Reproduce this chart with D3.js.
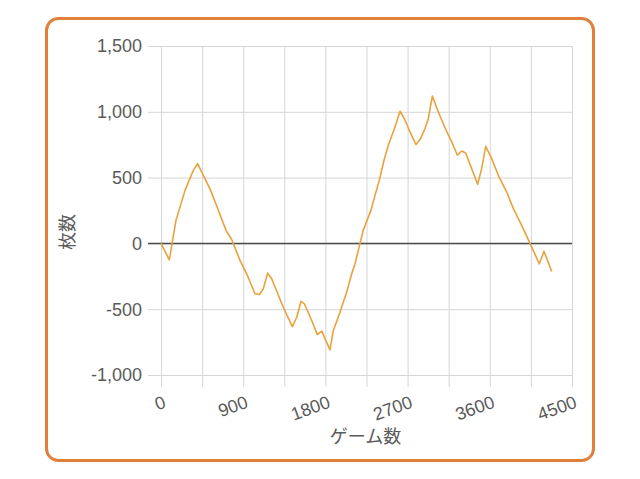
<!DOCTYPE html>
<html>
<head>
<meta charset="utf-8">
<script src="https://cdn.jsdelivr.net/npm/d3@7"></script>
<style>
  body { margin: 0; background: #fff; }
  text { font-family: "Liberation Sans", Arial, "Noto Sans CJK JP", sans-serif; fill: #5a5a5a; }
  .grid line { stroke: #d6d6d6; stroke-width: 1; }
  .domain { display: none; }
</style>
</head>
<body>
<svg width="640" height="479"></svg>
<script>
// ゲーム数 vs 枚数
let games = [0, 91, 164, 263, 354, 401, 544, 635, 712, 774, 865, 938, 1029, 1077, 1120, 1168, 1212,
  1339, 1438, 1486, 1533, 1570, 1650, 1712, 1760, 1850, 1887, 1960, 2033, 2088, 2124, 2179, 2215,
  2299, 2343, 2390, 2442, 2489, 2562, 2617, 2664, 2726, 2792, 2836, 2891, 2927, 2971, 3036, 3121,
  3183, 3245, 3292, 3336, 3401, 3467, 3511, 3555, 3621, 3701, 3785, 3858, 3949, 4040, 4142, 4193, 4278]
let coins = [0, -125, 175, 403, 555, 606, 403, 238, 99, 30, -129, -231, -383, -388, -345, -226, -269,
  -485, -632, -561, -441, -459, -586, -693, -667, -809, -662, -523, -370, -231, -155, 0, 101,
  251, 365, 479, 632, 746, 885, 1004, 949, 847, 751, 789, 873, 949, 1119, 999, 860,
  771, 670, 702, 687, 568, 449, 568, 738, 644, 505, 390, 264, 137, 0, -155, -59, -213]
let xTicks = [0, 900, 1800, 2700, 3600, 4500]
let xGrid = d3.range(0, 4501, 450)
let yTicks = [-1000, -500, 0, 500, 1000, 1500]
let yTickLabels = ["-1,000", "-500", "0", "500", "1,000", "1,500"]

let svg = d3.select("svg")
let margin = {top: 46, right: 68, bottom: 104, left: 161}
let width = svg.attr("width") - margin.left - margin.right
let height = svg.attr("height") - margin.top - margin.bottom

// frame
svg.append("rect")
    .attr("x", 46.5).attr("y", 18.5)
    .attr("width", 547).attr("height", 442)
    .attr("rx", 12)
    .attr("fill", "#fff")
    .attr("stroke", "#e0803a")
    .attr("stroke-width", 3)

let x = d3.scaleLinear().domain([0, 4500]).range([0, width])
let y = d3.scaleLinear().domain([-1000, 1500]).range([height, 0])

let g = svg.append("g")
    .attr("transform", "translate(" + margin.left + "," + margin.top + ")")

// vertical grid + x ticks
g.append("g")
    .attr("class", "grid")
    .attr("transform", "translate(0," + height + ")")
    .call(d3.axisBottom(x).tickValues(xGrid).tickSize(-height - 12).tickFormat(""))
    .selectAll("line").attr("transform", "translate(0,12)")

// horizontal grid + y ticks
g.append("g")
    .attr("class", "grid")
    .call(d3.axisLeft(y).tickValues(yTicks).tickSize(-width - 13).tickFormat(""))
    .selectAll("line").attr("transform", "translate(-13,0)")

// zero line
g.append("line")
    .attr("x1", -13).attr("x2", width)
    .attr("y1", y(0)).attr("y2", y(0))
    .attr("stroke", "#4a4a4a")
    .attr("stroke-width", 1.5)

// y labels
g.selectAll(".ylab")
  .data(yTicks)
  .enter().append("text")
    .attr("class", "ylab")
    .attr("x", -19)
    .attr("y", d => y(d))
    .attr("dy", "0.36em")
    .attr("text-anchor", "end")
    .style("font-size", "18px")
    .text((d, i) => yTickLabels[i])

// x labels, tilted
g.selectAll(".xlab")
  .data(xTicks)
  .enter().append("text")
    .attr("class", "xlab")
    .attr("transform", d => "translate(" + (x(d) + 6) + "," + (height + 32) + ") rotate(-20)")
    .attr("text-anchor", "end")
    .style("font-size", "18px")
    .text(d => d)

// axis titles
svg.append("text")
    .attr("x", margin.left + width / 2 - 1)
    .attr("y", 443)
    .attr("text-anchor", "middle")
    .style("font-size", "18px")
    .text("ゲーム数")

svg.append("text")
    .attr("transform", "translate(74,232) rotate(-90)")
    .attr("text-anchor", "middle")
    .style("font-size", "18px")
    .text("枚数")

let line = d3.line()
    .x((d, i) => x(games[i]))
    .y(d => y(d))

g.append("path")
    .datum(coins)
    .attr("fill", "none")
    .attr("stroke", "#e8a23e")
    .attr("stroke-width", 1.6)
    .attr("stroke-linejoin", "round")
    .attr("d", line)
</script>
</body>
</html>
